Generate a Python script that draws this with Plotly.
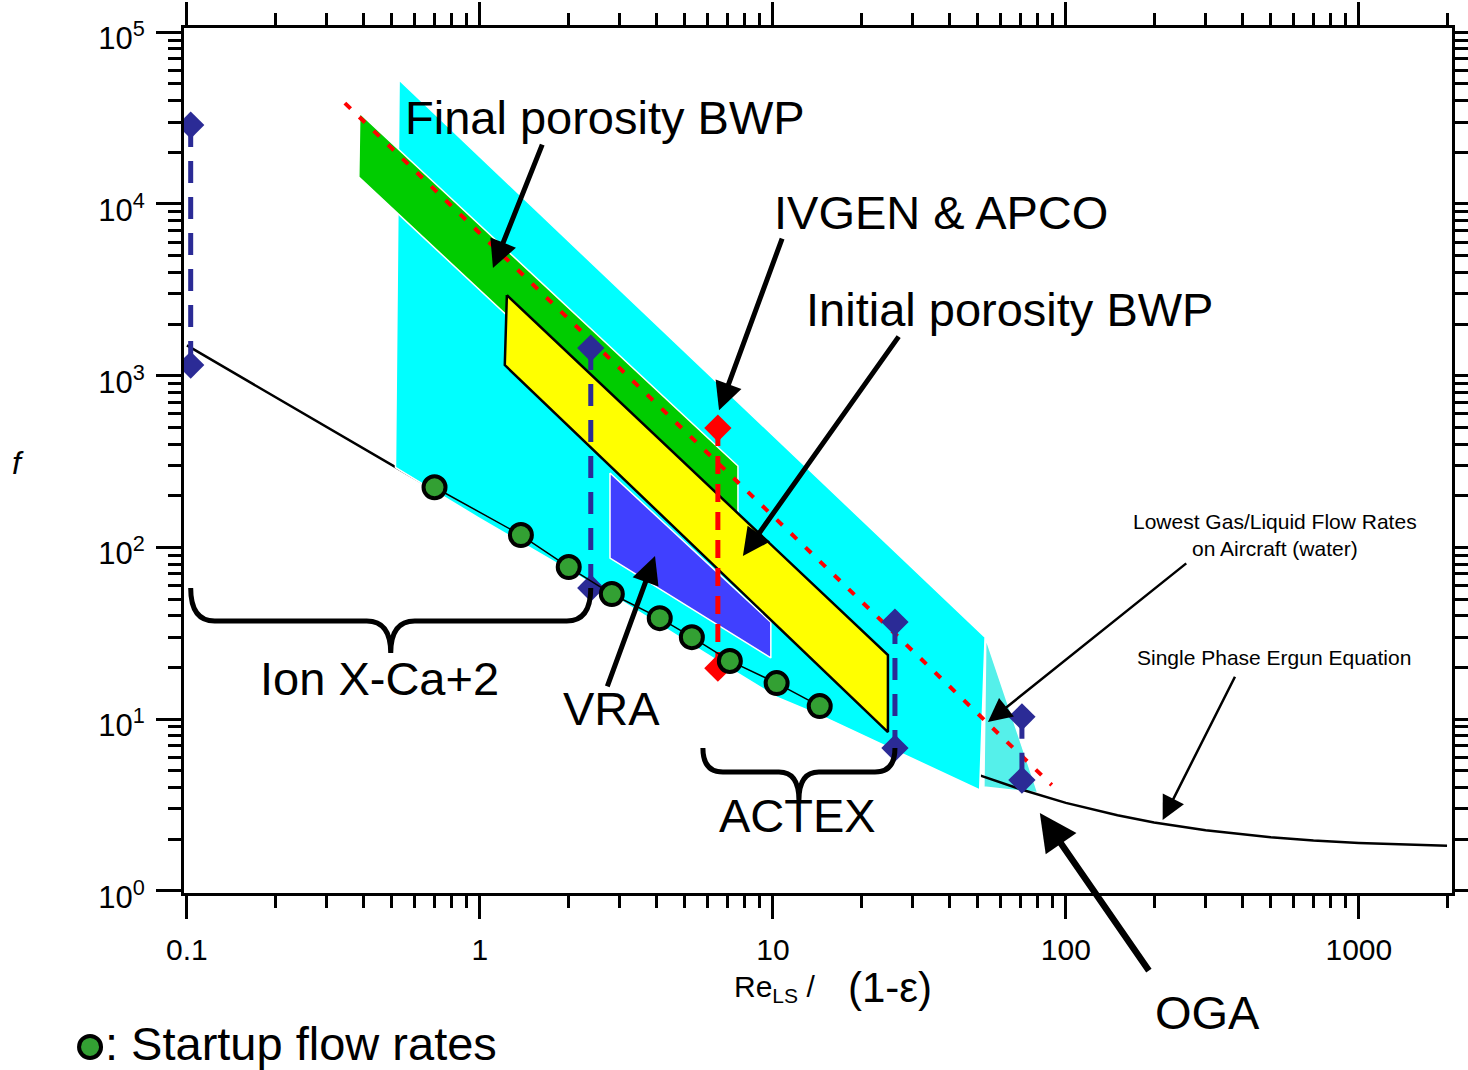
import math
import plotly.graph_objects as go

lg = math.log10

# ---------------- data ----------------
# Single phase Ergun equation
ergun_re = [0.1, 0.15, 0.2, 0.3, 0.5, 0.7, 1, 1.5, 2, 3, 5, 7, 10, 15, 20, 30,
            50, 70, 100, 150, 200, 300, 500, 700, 1000, 1500, 2000]
ergun_f = [1500, 1000, 752, 502, 302, 216, 152, 102, 77, 52, 32, 23, 16.8, 11.8,
           9.3, 6.8, 4.75, 3.9, 3.25, 2.75, 2.5, 2.25, 2.05, 1.96, 1.9, 1.85, 1.83]

# Startup flow rates
startup_re = [0.70, 1.38, 2.01, 2.82, 4.11, 5.29, 7.13, 10.3, 14.45]
startup_f = [224, 118, 76.8, 53.5, 38.7, 30.0, 21.8, 16.2, 11.9]

# Overall operating envelope
envelope_re = [0.53, 53.0, 50.8, 14.45, 10.3, 7.1, 3.0, 1.0, 0.515]
envelope_f = [52700, 30.0, 3.86, 10.55, 13.4, 19.8, 49.5, 147, 292]

# OGA region
oga_re = [53.3, 80.2, 52.5]
oga_f = [29.6, 3.72, 4.02]

# Final porosity BWP
final_bwp_re = [0.389, 7.6, 7.6, 0.386]
final_bwp_f = [33800, 298, 124, 14350]

# Initial porosity BWP
initial_bwp_re = [1.236, 24.7, 24.7, 1.216]
initial_bwp_f = [2946, 23.6, 8.4, 1153]

# VRA
vra_re = [2.78, 9.84, 9.84, 2.78]
vra_f = [271, 36.7, 22.7, 86.6]

# Two-phase trend line
trend_re = [0.346, 89.5]
trend_f = [38700, 4.13]

# IVGEN & APCO range
ivgen_re = [6.49, 6.49]
ivgen_f = [495, 19.8]

# Ion X, ACTEX and OGA ranges
range_re = [0.103, 2.39, 26.1, 70.8]
range_hi = [28800, 1448, 36.7, 10.3]
range_lo = [1153, 58, 6.78, 4.41]

x_tick_vals = [0.1, 1, 10, 100, 1000]
x_tick_text = ["0.1", "1", "10", "100", "1000"]
y_tick_vals = [1, 10, 100, 1000, 10000, 100000]
y_tick_text = ["10<sup>%d</sup>" % i for i in range(6)]

# ---------------- styling ----------------
FONT = "Liberation Sans, Arial, sans-serif"
NAVY = "#2B2B96"
X_RANGE = [-1.01, 3.318]
Y_RANGE = [-0.013, 5.025]
W, H = 1468, 1070
M = dict(l=184, r=16, t=28, b=177)
PW = W - M["l"] - M["r"]
PH = H - M["t"] - M["b"]

fig = go.Figure()


def polygon(xs, ys, fill, line_color, line_width):
    fig.add_trace(go.Scatter(
        x=xs + xs[:1], y=ys + ys[:1], mode="lines", fill="toself",
        fillcolor=fill, line=dict(color=line_color, width=line_width),
        hoverinfo="skip"))


polygon(oga_re, oga_f, "#55F0EA", "white", 1.5)

fig.add_trace(go.Scatter(x=ergun_re, y=ergun_f, mode="lines",
                         line=dict(color="black", width=2.5)))

polygon(envelope_re, envelope_f, "#00FFFF", "white", 1.5)
polygon(final_bwp_re, final_bwp_f, "#00CC00", "white", 1.5)
polygon(vra_re, vra_f, "#4040FF", "white", 1.5)
polygon(initial_bwp_re, initial_bwp_f, "#FFFF00", "black", 2.5)

fig.add_trace(go.Scatter(x=trend_re, y=trend_f, mode="lines",
                         line=dict(color="#FF0000", width=4, dash="8px,12px")))

for xr, hi, lo in zip(range_re, range_hi, range_lo):
    fig.add_trace(go.Scatter(
        x=[xr, xr], y=[hi, lo], mode="lines+markers",
        line=dict(color=NAVY, width=5, dash="22px,14px"),
        marker=dict(symbol="diamond", size=21, color=NAVY)))

fig.add_trace(go.Scatter(
    x=ivgen_re, y=ivgen_f, mode="lines+markers",
    line=dict(color="#FF0000", width=5, dash="18px,10px"),
    marker=dict(symbol="diamond", size=21, color="#FF0000")))

fig.add_trace(go.Scatter(
    x=startup_re, y=startup_f, mode="lines+markers",
    line=dict(color="black", width=1.5),
    marker=dict(symbol="circle", size=22, color="#33A033",
                line=dict(color="black", width=4))))


# ---------------- annotations ----------------
def label(text, x, f, size=47):
    fig.add_annotation(x=lg(x), y=lg(f), xref="x", yref="y", text=text,
                       showarrow=False, xanchor="center", yanchor="middle",
                       font=dict(family=FONT, size=size, color="black"))


def arrow(tail, tip, width=5, size=1.1):
    fig.add_annotation(x=lg(tip[0]), y=lg(tip[1]), ax=lg(tail[0]), ay=lg(tail[1]),
                       xref="x", yref="y", axref="x", ayref="y", text="",
                       showarrow=True, arrowhead=2, arrowsize=size,
                       arrowwidth=width, arrowcolor="black", standoff=0)


def paper_text(text, x, y, size, xanchor="center", italic=False):
    fig.add_annotation(x=x, y=y, xref="paper", yref="paper",
                       text=f"<i>{text}</i>" if italic else text,
                       showarrow=False, xanchor=xanchor, yanchor="middle",
                       font=dict(family=FONT, size=size, color="black"))


label("Final porosity BWP", 2.67, 32000)
label("IVGEN &amp; APCO", 37.4, 8970)
label("Initial porosity BWP", 64.4, 2443)
label("VRA", 2.82, 11.6)
label("Ion X-Ca+2", 0.456, 17.3)
label("ACTEX", 12.1, 2.76)
label("Lowest Gas/Liquid Flow Rates<br>on Aircraft (water)", 516, 118, size=21)
label("Single Phase Ergun Equation", 513, 22.7, size=21)
paper_text("OGA", 0.807, -0.138, 47)

arrow((1.64, 22600), (1.108, 4234))
arrow((10.8, 6420), (6.55, 630))
arrow((27.1, 1723), (7.9, 89))
arrow((2.71, 15.2), (3.96, 89))
arrow((260.6, 82), (54.2, 9.6), width=2.5, size=1.9)
arrow((380, 18.0), (214, 2.58), width=2.5, size=1.9)
arrow((193.6, 0.336), (81.5, 2.84), width=6.5, size=1.15)


def to_paper(x, f):
    return ((lg(x) - X_RANGE[0]) / (X_RANGE[1] - X_RANGE[0]),
            (lg(f) - Y_RANGE[0]) / (Y_RANGE[1] - Y_RANGE[0]))


def brace(x_left, x_right, f_top, arm, tip, r):
    """Curly brace opening upwards, hung below f_top; depths in pixels."""
    xl, y0 = to_paper(x_left, f_top)
    xr, _ = to_paper(x_right, f_top)
    xc = (xl + xr) / 2
    dx = r / PW
    yh = y0 - arm / PH
    yp = y0 - tip / PH
    path = (f"M{xl},{y0} Q{xl},{yh} {xl + dx},{yh} L{xc - dx},{yh} "
            f"Q{xc},{yh} {xc},{yp} Q{xc},{yh} {xc + dx},{yh} "
            f"L{xr - dx},{yh} Q{xr},{yh} {xr},{y0}")
    fig.add_shape(type="path", path=path, xref="paper", yref="paper",
                  line=dict(color="black", width=5), layer="above")


brace(range_re[0], range_re[1], range_lo[1], 33, 65, 24)
brace(5.77, range_re[2], range_lo[2], 24, 52, 20)

# axis titles and key
paper_text("f", -0.131, 0.497, 32, italic=True)
paper_text("Re<sub>LS</sub> /", 0.466, -0.110, 30)
paper_text("(1-\u03b5)", 0.557, -0.109, 42)
fig.add_shape(type="circle", xref="paper", yref="paper",
              xsizemode="pixel", ysizemode="pixel",
              xanchor=-0.0741, yanchor=-0.178, x0=-11, x1=11, y0=-11, y1=11,
              fillcolor="#33A033", line=dict(color="black", width=4))
paper_text(": Startup flow rates", -0.064, -0.1735, 47, xanchor="left")


def minor_vals(lo, hi):
    return [m * 10 ** e for e in range(lo, hi) for m in range(2, 10)]


axis_common = dict(type="log", showgrid=False, zeroline=False, ticks="outside",
                   tickwidth=3, tickcolor="black", showline=True, linewidth=3,
                   linecolor="black", mirror="ticks", tickmode="array",
                   tickfont=dict(family=FONT, size=30, color="black"))

fig.update_layout(
    width=W, height=H, margin=dict(M, autoexpand=False),
    paper_bgcolor="white", plot_bgcolor="white", showlegend=False,
    xaxis=dict(axis_common, range=X_RANGE, tickvals=x_tick_vals,
               ticktext=x_tick_text, ticklen=23, ticklabelstandoff=5,
               minor=dict(tickmode="array", tickvals=minor_vals(-1, 4),
                          ticks="outside", ticklen=12, tickwidth=3,
                          tickcolor="black", showgrid=False)),
    yaxis=dict(axis_common, range=Y_RANGE, tickvals=y_tick_vals,
               ticktext=y_tick_text, ticklen=25, ticklabelstandoff=5,
               ticklabelshift=6,
               tickfont=dict(family=FONT, size=31, color="black"),
               minor=dict(tickmode="array", tickvals=minor_vals(0, 5),
                          ticks="outside", ticklen=13, tickwidth=3,
                          tickcolor="black", showgrid=False)),
)

fig.write_html("out.html")
